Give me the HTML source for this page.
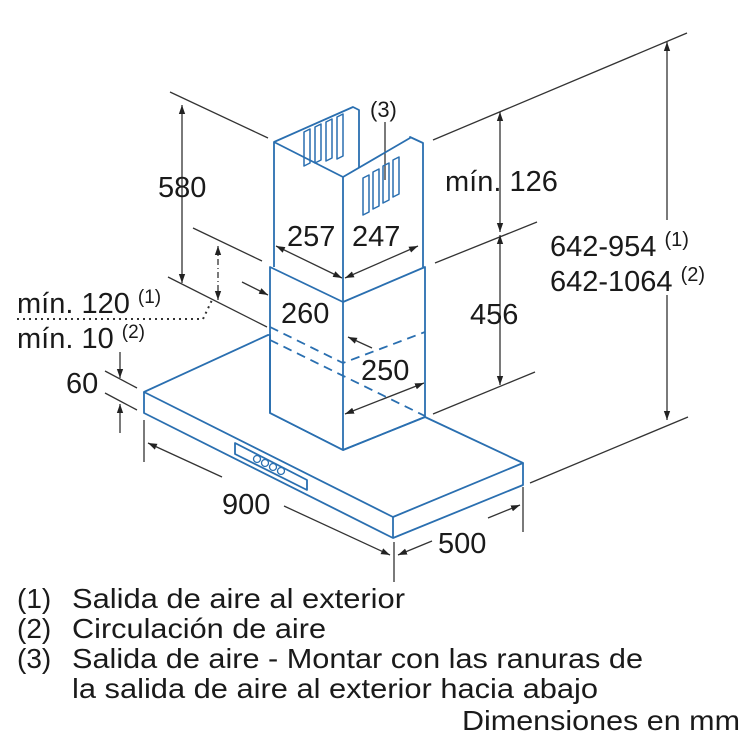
<!DOCTYPE html>
<html><head><meta charset="utf-8"><style>
html,body{margin:0;padding:0;background:#fff;}
svg{display:block;}
text{font-family:"Liberation Sans",sans-serif;fill:#1a1a1a;}
</style></head><body>
<svg width="750" height="750" viewBox="0 0 750 750" xmlns="http://www.w3.org/2000/svg">
<defs>
<marker id="a" viewBox="0 0 10 10" refX="10" refY="5" markerWidth="9" markerHeight="9" orient="auto-start-reverse" markerUnits="userSpaceOnUse"><path d="M0,1.5 L10,5 L0,8.5z" fill="#222"/></marker>
</defs>
<g stroke="#333" stroke-width="1.3" fill="none">
<line x1="170" y1="92" x2="268" y2="138"/>
<line x1="193" y1="228" x2="262" y2="261"/>
<line x1="168" y1="277" x2="267" y2="327"/>
<line x1="433" y1="140" x2="687" y2="33"/>
<line x1="435" y1="263" x2="537" y2="222"/>
<line x1="433" y1="414" x2="535" y2="372"/>
<line x1="530" y1="483" x2="688" y2="417"/>
<line x1="105" y1="371" x2="137" y2="388"/>
<line x1="105" y1="393" x2="137" y2="410"/>
<line x1="144" y1="420" x2="144" y2="462"/>
<line x1="394" y1="542" x2="394" y2="582"/>
<line x1="523" y1="487" x2="523" y2="532"/>
<line x1="182" y1="105" x2="182" y2="283" marker-start="url(#a)" marker-end="url(#a)"/>
<line x1="500" y1="112" x2="500" y2="232" marker-start="url(#a)" marker-end="url(#a)"/>
<line x1="500" y1="235" x2="500" y2="385" marker-start="url(#a)" marker-end="url(#a)"/>
<line x1="667" y1="42" x2="667" y2="220" marker-start="url(#a)"/>
<line x1="667" y1="295" x2="667" y2="420" marker-end="url(#a)"/>
<line x1="120" y1="352" x2="120" y2="378" marker-end="url(#a)"/>
<line x1="120" y1="433" x2="120" y2="404" marker-end="url(#a)"/>
<line x1="242" y1="282" x2="268" y2="295" marker-end="url(#a)"/>
<line x1="218" y1="246" x2="218" y2="300" stroke-dasharray="6,3,1,3" marker-start="url(#a)" marker-end="url(#a)"/>
<line x1="148" y1="443" x2="222" y2="477" marker-start="url(#a)"/>
<line x1="284" y1="506" x2="390" y2="555" marker-end="url(#a)"/>
<line x1="398" y1="555" x2="432" y2="541" marker-start="url(#a)"/>
<line x1="488" y1="518" x2="520" y2="505" marker-end="url(#a)"/>
<line x1="276" y1="246" x2="342" y2="278" marker-start="url(#a)" marker-end="url(#a)"/>
<line x1="345" y1="278" x2="418" y2="246" marker-start="url(#a)" marker-end="url(#a)"/>
<line x1="348" y1="337" x2="372" y2="348" marker-start="url(#a)"/>
<line x1="345" y1="414" x2="424" y2="383" marker-start="url(#a)" marker-end="url(#a)"/>
<line x1="385" y1="122" x2="385" y2="180"/>
<polyline points="17,319 203,319 212,300" stroke-dasharray="2,4" stroke-width="2"/>
</g>
<g stroke="#2a6fb0" stroke-width="1.8" fill="none" stroke-linejoin="round">
<polygon points="144,392 268,335 270,335 270,413 343,450 425,417 523,463 393,517"/>
<polyline points="144,392 144,413 393,538 523,485 523,463"/>
<line x1="393" y1="517" x2="393" y2="538"/>
<polygon points="235,443 307,480 307,490 235,454"/>
<g stroke-width="1.3"><circle cx="257" cy="459" r="3.5"/><circle cx="265" cy="463" r="3.5"/><circle cx="273" cy="467" r="3.5"/><circle cx="281" cy="471" r="3.5"/></g>
<polygon points="270,267 343,302 425,267 425,417 343,450 270,413"/>
<line x1="343" y1="302" x2="343" y2="450"/>
<polyline points="274,267 274,142 343,177 343,302"/>
<polyline points="423,267 423,143 410,137 410,138 343,177"/>
<polyline points="274,142 353,107 359,110 359,168"/>
<g stroke-width="1.5">
<polygon points="304,132 310,129 310,163 304,166"/>
<polygon points="315,127 321,124 321,160 315,163"/>
<polygon points="326,122 332,119 332,158 326,161"/>
<polygon points="337,117 343,114 343,156 337,159"/>
<polygon points="363,178 369,175 369,212 363,215"/>
<polygon points="373,172 379,169 379,206 373,209"/>
<polygon points="383,166 389,163 389,200 383,203"/>
<polygon points="393,160 399,157 399,194 393,197"/>
</g>
<g stroke-dasharray="9,6">
<polyline points="270,327 343,363 425,332"/>
<line x1="270" y1="340" x2="425" y2="416"/>
</g>
</g>
<g font-size="29">
<text x="370" y="117" font-size="22">(3)</text>
<text x="158" y="197">580</text>
<text x="445" y="191">mín. 126</text>
<text x="287" y="246">257</text>
<text x="352" y="246">247</text>
<text x="281" y="323">260</text>
<text x="470" y="324">456</text>
<text x="361" y="380">250</text>
<text x="550" y="256">642-954 <tspan font-size="20" dy="-10">(1)</tspan></text>
<text x="550" y="291">642-1064 <tspan font-size="20" dy="-10">(2)</tspan></text>
<text x="17" y="313">mín. 120 <tspan font-size="19" dy="-10">(1)</tspan></text>
<text x="17" y="348">mín. 10 <tspan font-size="19" dy="-10">(2)</tspan></text>
<text x="66" y="393">60</text>
<text x="222" y="514">900</text>
<text x="438" y="553">500</text>
</g>
<g font-size="28">
<text x="17" y="608">(1)</text><text x="72" y="608" textLength="333" lengthAdjust="spacingAndGlyphs">Salida de aire al exterior</text>
<text x="17" y="638">(2)</text><text x="72" y="638" textLength="254" lengthAdjust="spacingAndGlyphs">Circulación de aire</text>
<text x="17" y="668">(3)</text><text x="72" y="668" textLength="571" lengthAdjust="spacingAndGlyphs">Salida de aire - Montar con las ranuras de</text>
<text x="72" y="698" textLength="526" lengthAdjust="spacingAndGlyphs">la salida de aire al exterior hacia abajo</text>
<text x="462" y="730" textLength="278" lengthAdjust="spacingAndGlyphs">Dimensiones en mm</text>
</g>
</svg>
</body></html>
